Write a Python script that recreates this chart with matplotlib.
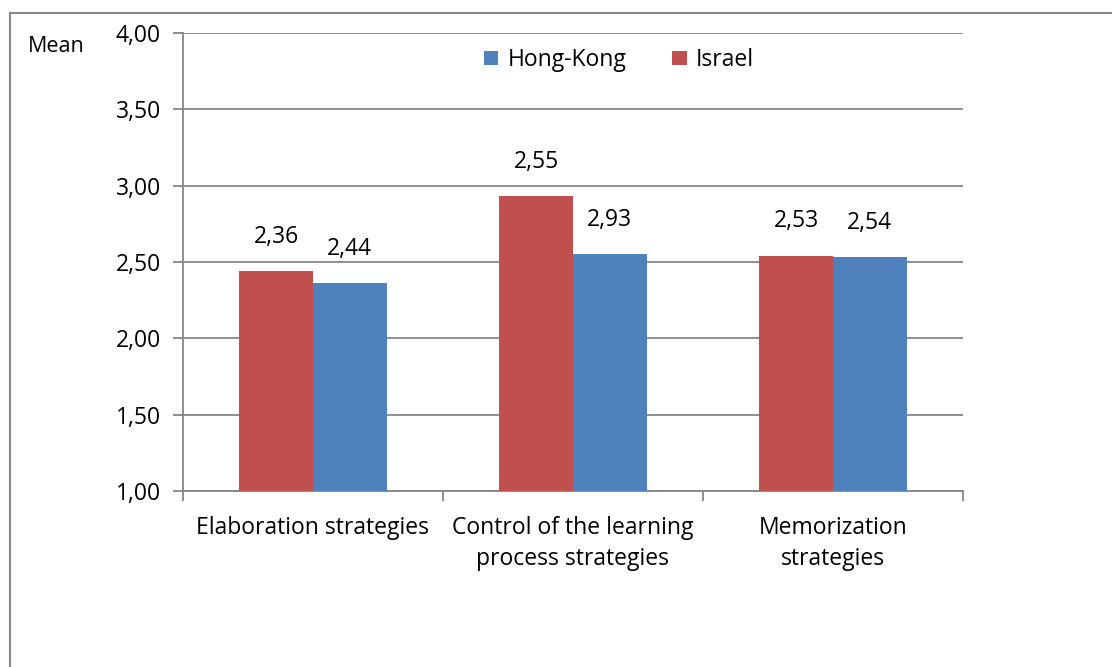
import matplotlib
matplotlib.use("Agg")
import matplotlib.pyplot as plt
import numpy as np

categories = ["Elaboration strategies", "Control of the learning\nprocess strategies", "Memorization\nstrategies"]
israel = [2.44, 2.93, 2.54]
hong_kong = [2.36, 2.55, 2.53]
# data labels as shown in the original (label texts appear swapped between series)
israel_labels = ["2,36", "2,55", "2,53"]
hong_kong_labels = ["2,44", "2,93", "2,54"]
yticks = [1.0, 1.5, 2.0, 2.5, 3.0, 3.5, 4.0]
ytick_labels = ["1,00", "1,50", "2,00", "2,50", "3,00", "3,50", "4,00"]

RED = "#C0504D"
BLUE = "#4F81BD"
GRID = "#868686"
FONT = "Open Sans"
FS = 16.5

plt.rcParams['font.family'] = [FONT, 'DejaVu Sans']

fig = plt.figure(figsize=(11.12, 6.67), dpi=100)
fig.patch.set_facecolor("white")

# outer chart border (top and left visible)
fig.add_artist(plt.Line2D([10/1112, 1.0], [1-13/667, 1-13/667], color=GRID, lw=1.5, transform=fig.transFigure))
fig.add_artist(plt.Line2D([10/1112, 10/1112], [1-13/667, 0], color=GRID, lw=1.5, transform=fig.transFigure))

ax = fig.add_axes([183/1112, 1-491/667, (963-183)/1112, (491-33)/667])
x = np.arange(len(categories))
w = 0.283
b1 = ax.bar(x - w/2, [v - 1 for v in israel], w, bottom=1, color=RED, label="Israel", zorder=3)
b2 = ax.bar(x + w/2, [v - 1 for v in hong_kong], w, bottom=1, color=BLUE, label="Hong-Kong", zorder=3)

for xi, v, t in zip(x - w/2, israel, israel_labels):
    ax.annotate(t, (xi, v), xytext=(0, 20.5), textcoords="offset points",
                ha="center", va="baseline", fontsize=FS, color="black")
for xi, v, t in zip(x + w/2, hong_kong, hong_kong_labels):
    ax.annotate(t, (xi, v), xytext=(0, 20.5), textcoords="offset points",
                ha="center", va="baseline", fontsize=FS, color="black")

ax.set_ylim(1, 4)
ax.set_xlim(-0.5, 2.5)
ax.set_yticks(yticks)
ax.set_yticklabels(ytick_labels, fontsize=FS)
ax.yaxis.grid(True, color=GRID, lw=1.3, zorder=0)
ax.set_axisbelow(True)

ax.set_xticks([-0.5, 0.5, 1.5, 2.5])
ax.set_xticklabels([])
ax.set_xticks(x, minor=True)
ax.set_xticklabels(categories, minor=True, fontsize=FS, linespacing=1.38)
ax.tick_params(axis="x", which="minor", length=0, pad=18)
ax.tick_params(axis="x", which="major", length=7, width=1.3, color=GRID, direction="out")
ax.tick_params(axis="y", length=7, width=1.3, color=GRID, direction="out", pad=9)

for s in ["top", "right"]:
    ax.spines[s].set_visible(False)
for s in ["left", "bottom"]:
    ax.spines[s].set_color(GRID)
    ax.spines[s].set_linewidth(1.3)

leg = ax.legend(handles=[b2, b1], labels=["Hong-Kong", "Israel"], loc="center",
                bbox_to_anchor=((619-183)/780, 1-(60-33)/458), ncol=2, frameon=False, fontsize=FS,
                handlelength=0.62, handleheight=0.62, handletextpad=0.4, columnspacing=2.0)

fig.text(28/1112, 1-47/667, "Mean", fontsize=15.5, ha="left", va="center")

fig.savefig("out.png", dpi=100, facecolor="white")
